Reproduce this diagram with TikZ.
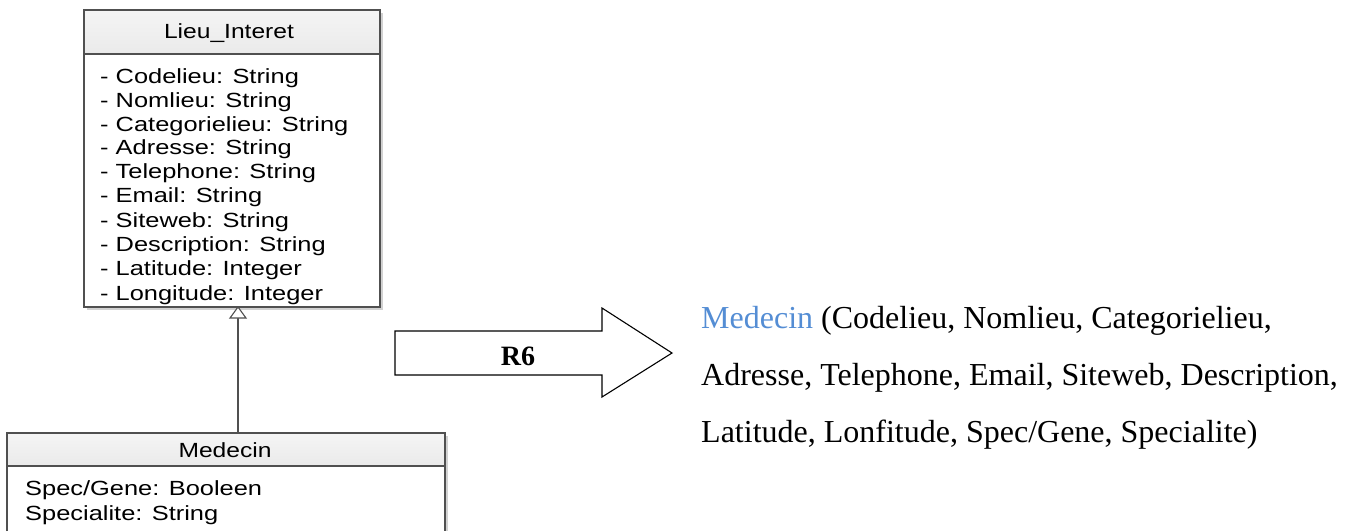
\documentclass[tikz,border=0pt]{standalone}
\usepackage{fontspec}
\setmainfont{Liberation Serif}
\newfontfamily\umlfont{Liberation Sans}
\definecolor{umlline}{RGB}{80,80,80}
\definecolor{umlhead}{RGB}{234,234,234}
\definecolor{relblue}{RGB}{84,141,212}
\newcommand\umlt[1]{\scalebox{1.2}[1]{#1}}
\newcommand\umla[1]{\scalebox{1.24}[1]{#1}}
\tikzset{
  umltext/.style={inner sep=0pt, anchor=base west, font=\umlfont\fontsize{20.5}{24}\selectfont, text=black},
  umltitle/.style={inner sep=0pt, anchor=base, font=\umlfont\fontsize{20.5}{24}\selectfont, text=black},
  umlbox/.style={draw=umlline, line width=1.3pt},
  umlshadow/.style={fill=black!18, draw=none},
  reltext/.style={inner sep=0pt, anchor=base west, font=\fontsize{32}{36}\selectfont},
}
\begin{document}
\begin{tikzpicture}[x=1pt, y=-1pt]
\useasboundingbox (0,0) rectangle (1357,531);

% class Lieu_Interet
\fill[umlshadow] (87,13) rectangle (383,310);
\fill[white] (84,10) rectangle (380,307);
\shade[top color=white!96!black, bottom color=umlhead] (84,10) rectangle (380,54);
\draw[umlbox] (84,10) rectangle (380,307);
\draw[umlbox] (84,54) -- (380,54);
\node[umltitle] (lieu) at (229,38) {\umlt{Lieu\_Interet}};
\node[umltext] (a1) at (100,83) {\umla{- Codelieu: String}};
\node[umltext] (a2) at (100,107) {\umla{- Nomlieu: String}};
\node[umltext] (a3) at (100,131) {\umla{- Categorielieu: String}};
\node[umltext] (a4) at (100,154.5) {\umla{- Adresse: String}};
\node[umltext] (a5) at (100,178.5) {\umla{- Telephone: String}};
\node[umltext] (a6) at (100,202.5) {\umla{- Email: String}};
\node[umltext] (a7) at (100,227) {\umla{- Siteweb: String}};
\node[umltext] (a8) at (100,251.5) {\umla{- Description: String}};
\node[umltext] (a9) at (100,275.5) {\umla{- Latitude: Integer}};
\node[umltext] (a10) at (100,300) {\umla{- Longitude: Integer}};
\coordinate (gentip) at (238,307);

% class Medecin
\fill[umlshadow] (10,436) rectangle (448,531);
\fill[white] (7,433) rectangle (445,531);
\shade[top color=white!96!black, bottom color=umlhead] (7,433) rectangle (445,466);
\draw[umlbox] (7,531) -- (7,433) -- (445,433) -- (445,531);
\draw[umlbox] (7,466) -- (445,466);
\node[umltitle] (med) at (225,457) {\umlt{Medecin}};
\node[umltext] (b1) at (25,495) {\umla{Spec/Gene: Booleen}};
\node[umltext] (b2) at (25,520) {\umla{Specialite: String}};
\coordinate (genfoot) at (238,433);

% generalization
\draw[umlline, line width=1.3pt] (genfoot) -- (238,318);
\draw[umlline, line width=1.1pt, fill=white] (gentip) -- (246,318) -- (230,318) -- cycle;

% transformation arrow
\draw[line width=1.1pt, fill=white] (395,331) -- (602,331) -- (602,308) -- (672,353)
  -- (602,397) -- (602,375) -- (395,375) -- cycle;
\node[inner sep=0pt, anchor=base, font=\bfseries\fontsize{28}{32}\selectfont] (r6) at (518,365.5) {R6};

% relational schema
\node[reltext] (l1) at (701,328) {\textcolor{relblue}{Medecin} (Codelieu, Nomlieu, Categorielieu,};
\node[reltext] (l2) at (701,385) {Adresse, Telephone, Email, Siteweb, Description,};
\node[reltext] (l3) at (701,442) {Latitude, Lonfitude, Spec/Gene, Specialite)};
\end{tikzpicture}
\end{document}
